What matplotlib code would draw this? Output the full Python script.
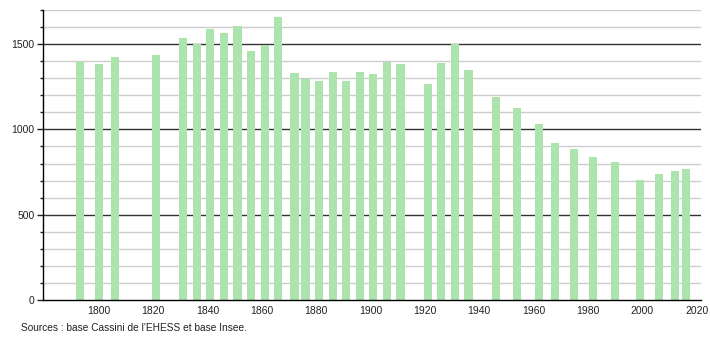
import matplotlib
matplotlib.use("Agg")
import matplotlib.pyplot as plt
from matplotlib.ticker import MultipleLocator

plt.rcParams['font.family'] = ['Liberation Sans', 'DejaVu Sans']

years = [1793, 1800, 1806, 1821, 1831, 1836, 1841, 1846, 1851, 1856, 1861, 1866,
         1872, 1876, 1881, 1886, 1891, 1896, 1901, 1906, 1911, 1921, 1926, 1931,
         1936, 1946, 1954, 1962, 1968, 1975, 1982, 1990, 1999, 2006, 2012, 2016]
population = [1398, 1382, 1422, 1435, 1533, 1500, 1588, 1565, 1608, 1461, 1496, 1661,
              1329, 1298, 1282, 1335, 1282, 1335, 1322, 1398, 1382, 1265, 1388, 1500,
              1347, 1188, 1124, 1029, 922, 886, 841, 810, 706, 739, 755, 769]
xticks = [1800, 1820, 1840, 1860, 1880, 1900, 1920, 1940, 1960, 1980, 2000, 2020]
yticks = [0, 500, 1000, 1500]
source = "Sources : base Cassini de l'EHESS et base Insee."

fig = plt.figure(figsize=(7.1, 3.4), dpi=100)
ax = fig.add_axes([43/710, 1-300/340, (701-43)/710, 290/340])

for v in range(100, 1701, 100):
    if v % 500 == 0:
        ax.axhline(v, color='#333333', lw=1.0, zorder=1)
    else:
        ax.axhline(v, color='#cccccc', lw=1.0, zorder=1)

ax.bar(years, population, width=3.0, color='#ade3ad', zorder=2, linewidth=0)

ax.set_xlim(1779.4, 2021.6)
ax.set_ylim(0, 1700)
ax.set_xticks(xticks)
ax.set_xticklabels([str(t) for t in xticks])
ax.set_yticks(yticks)
ax.yaxis.set_minor_locator(MultipleLocator(100))
ax.tick_params(axis='x', length=0, labelsize=7.5, pad=4, colors='#222222')
ax.tick_params(axis='y', which='major', length=4, width=1, labelsize=7.5, pad=2, colors='#222222')
ax.tick_params(axis='y', which='minor', length=2, width=1, color='#222222')
for s in ['top', 'right']:
    ax.spines[s].set_visible(False)
ax.spines['left'].set_color('black')
ax.spines['bottom'].set_color('black')
ax.spines['left'].set_linewidth(1.0)
ax.spines['bottom'].set_linewidth(1.0)

fig.text(21/710, 1-328/340, source, fontsize=7.3, va='center', ha='left', color='#222222')

fig.savefig('out.png', dpi=100)
